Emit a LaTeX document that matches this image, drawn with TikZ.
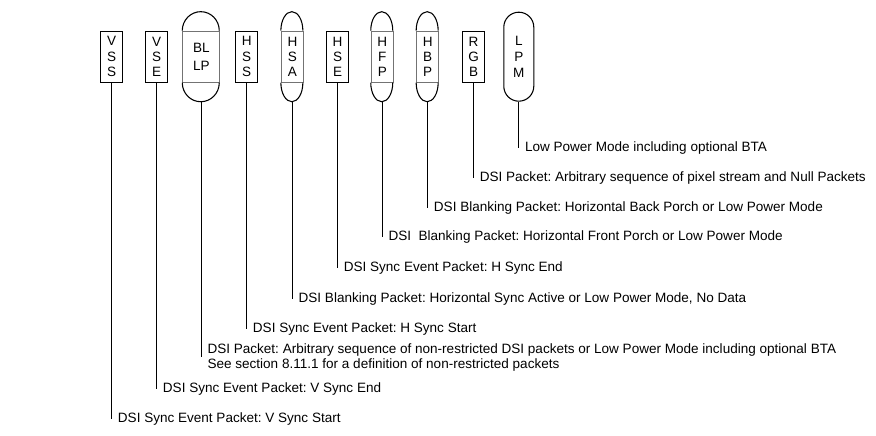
\documentclass[tikz,border=0pt]{standalone}
\usepackage{fontspec}
\setmainfont{Liberation Sans}
\frenchspacing
\tikzset{
    % one line width for boxes, caps and leader lines
    base_width/.style={line width=0.8pt},
    % plain packet box (sync events, pixel data)
    packet_box/.style={
        rectangle,
        draw=black,
        base_width,
        minimum width=16.5pt,
        minimum height=38.25pt,
        inner sep=0pt,
        align=center,
        font=\fontsize{10.15}{11.5}\selectfont
    },
    % middle part of a capsule (blanking or low power)
    blank_box/.style={
        packet_box,
        draw=black!55
    },
    wide_box/.style={
        blank_box,
        minimum width=27.75pt,
        font=\fontsize{10.15}{14}\selectfont
    },
    lpm_box/.style={
        packet_box,
        minimum width=22.5pt,
        minimum height=66.75pt,
        rounded corners=11.25pt,
        font=\fontsize{10.15}{12}\selectfont
    },
    cap_line/.style={draw=black, base_width},
    lead_line/.style={draw=black, base_width},
    label_text/.style={
        anchor=west,
        inner sep=0pt,
        align=left,
        font=\fontsize{10.15}{11}\selectfont
    }
}

\begin{document}
\begin{tikzpicture}[x=0.75pt, y=-0.75pt]
    \useasboundingbox (0,0) rectangle (876,436);

    % --- PACKET ROW ---
    \node[packet_box] (vss) at (111.7,56.7) {V\\S\\S};
    \node[packet_box] (vse) at (156.7,56.7) {V\\S\\E};
    \node[wide_box]   (bllp) at (201.3,56.7) {BL\\LP};
    \node[packet_box] (hss) at (246.7,56.7) {H\\S\\S};
    \node[blank_box]  (hsa) at (292.4,56.7) {H\\S\\A};
    \node[packet_box] (hse) at (337.6,56.7) {H\\S\\E};
    \node[blank_box]  (hfp) at (382.3,56.7) {H\\F\\P};
    \node[blank_box]  (hbp) at (427.7,56.7) {H\\B\\P};
    \node[packet_box] (rgb) at (473.6,56.7) {R\\G\\B};
    \node[lpm_box]    (lpm) at (518.8,56.7) {L\\P\\M};

    % --- CAPSULE CAPS ---
    \draw[cap_line] (bllp.north west) arc[start angle=180, end angle=0, x radius=13.875pt, y radius=14.25pt];
    \draw[cap_line] (bllp.south west) arc[start angle=180, end angle=360, x radius=13.875pt, y radius=14.25pt];
    \draw[cap_line] (hsa.north west) arc[start angle=180, end angle=0, x radius=8.25pt, y radius=14.25pt];
    \draw[cap_line] (hsa.south west) arc[start angle=180, end angle=360, x radius=8.25pt, y radius=14.25pt];
    \draw[cap_line] (hfp.north west) arc[start angle=180, end angle=0, x radius=8.25pt, y radius=14.25pt];
    \draw[cap_line] (hfp.south west) arc[start angle=180, end angle=360, x radius=8.25pt, y radius=14.25pt];
    \draw[cap_line] (hbp.north west) arc[start angle=180, end angle=0, x radius=8.25pt, y radius=14.25pt];
    \draw[cap_line] (hbp.south west) arc[start angle=180, end angle=360, x radius=8.25pt, y radius=14.25pt];
    \coordinate (bllp_bot) at ([yshift=-14.25pt]bllp.south);
    \coordinate (hsa_bot) at ([yshift=-14.25pt]hsa.south);
    \coordinate (hfp_bot) at ([yshift=-14.25pt]hfp.south);
    \coordinate (hbp_bot) at ([yshift=-14.25pt]hbp.south);

    % --- LABELS ---
    \node[label_text] (lpm_txt) at (524.8,147.6) {Low Power Mode including optional BTA};
    \node[label_text] (rgb_txt) at (479.6,177.6) {DSI Packet: Arbitrary sequence of pixel stream and Null Packets};
    \node[label_text] (hbp_txt) at (433.7,207.6) {DSI Blanking Packet: Horizontal Back Porch or Low Power Mode};
    \node[label_text] (hfp_txt) at (388.3,237.3) {DSI\ \ Blanking Packet: Horizontal Front Porch or Low Power Mode};
    \node[label_text] (hse_txt) at (343.6,268.3) {DSI Sync Event Packet: H Sync End};
    \node[label_text] (hsa_txt) at (298.4,298.9) {DSI Blanking Packet: Horizontal Sync Active or Low Power Mode, No Data};
    \node[label_text] (hss_txt) at (252.7,328.9) {DSI Sync Event Packet: H Sync Start};
    \node[label_text] (bllp_txt) at (207.3,357.2) {DSI Packet: Arbitrary sequence of non-restricted DSI packets or Low Power Mode including optional BTA\\See section 8.11.1 for a definition of non-restricted packets};
    \node[label_text] (vse_txt) at (162.7,389.3) {DSI Sync Event Packet: V Sync End};
    \node[label_text] (vss_txt) at (117.7,418.9) {DSI Sync Event Packet: V Sync Start};

    % --- LEADER LINES ---
    \draw[lead_line] (vss.south) -- (vss.south |- vss_txt.west);
    \draw[lead_line] (vse.south) -- (vse.south |- vse_txt.west);
    \draw[lead_line] (bllp_bot) -- (bllp_bot |- bllp_txt.west);
    \draw[lead_line] (hss.south) -- (hss.south |- hss_txt.west);
    \draw[lead_line] (hsa_bot) -- (hsa_bot |- hsa_txt.west);
    \draw[lead_line] (hse.south) -- (hse.south |- hse_txt.west);
    \draw[lead_line] (hfp_bot) -- (hfp_bot |- hfp_txt.west);
    \draw[lead_line] (hbp_bot) -- (hbp_bot |- hbp_txt.west);
    \draw[lead_line] (rgb.south) -- (rgb.south |- rgb_txt.west);
    \draw[lead_line] (lpm.south) -- (lpm.south |- lpm_txt.west);

\end{tikzpicture}
\end{document}
